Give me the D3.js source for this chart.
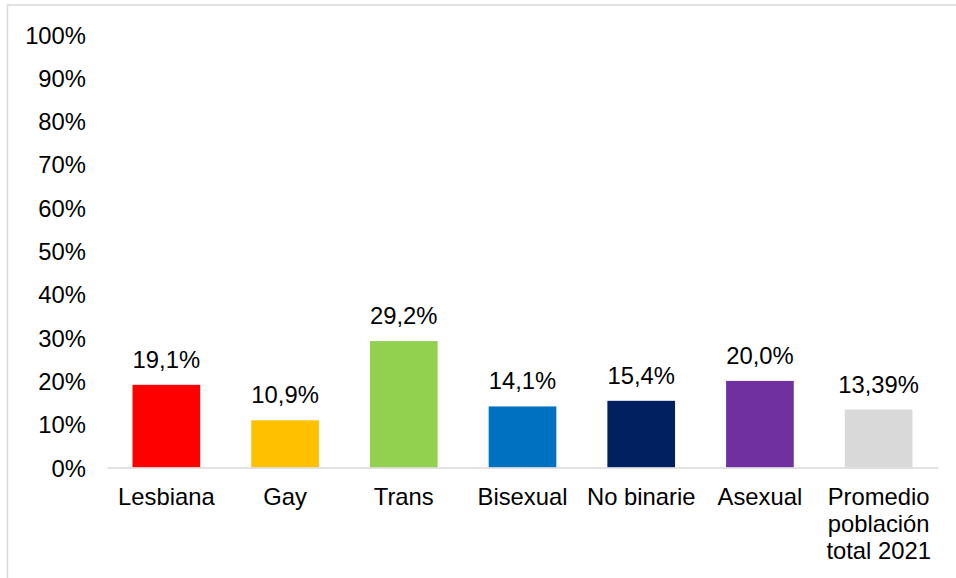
<!DOCTYPE html>
<html>
<head>
<meta charset="utf-8">
<script src="https://cdn.jsdelivr.net/npm/d3@7"></script>
<style>
  body { margin: 0; background: #fff; }
  text { font-family: "Liberation Sans", Arial, sans-serif; fill: #000; }
</style>
</head>
<body>
<div id="chart"></div>
<script>
const width = 956
const height = 578

// Data
const categories = ["Lesbiana", "Gay", "Trans", "Bisexual", "No binarie", "Asexual", "Promedio población total 2021"]
const categoryLines = [["Lesbiana"], ["Gay"], ["Trans"], ["Bisexual"], ["No binarie"], ["Asexual"], ["Promedio", "población", "total 2021"]]
const values = [19.1, 10.9, 29.2, 14.1, 15.4, 20.0, 13.39]
const valueLabels = ["19,1%", "10,9%", "29,2%", "14,1%", "15,4%", "20,0%", "13,39%"]
const barColors = ["#ff0000", "#ffc000", "#92d050", "#0070c0", "#002060", "#7030a0", "#d9d9d9"]
const yTicks = [0, 10, 20, 30, 40, 50, 60, 70, 80, 90, 100]

const fontSize = "23.8px"

const svg = d3.select("#chart")
  .append("svg")
    .attr("width", width)
    .attr("height", height)

// chart frame (cropped at right and bottom)
svg.append("rect")
  .attr("x", 7.5)
  .attr("y", 5)
  .attr("width", width + 20)
  .attr("height", height + 20)
  .attr("fill", "none")
  .attr("stroke", "#d9d9d9")
  .attr("stroke-width", 1.5)

const xScale = d3.scaleBand()
  .domain(categories)
  .range([107, 938])
  .paddingInner(0.43)
  .paddingOuter(0.215)

const yScale = d3.scaleLinear()
  .domain([0, 100])
  .range([467.5, 34.5])

// y-axis labels, no line
const yAxis = svg.append("g")
  .attr("transform", "translate(86, 0)")
  .call(d3.axisLeft(yScale).tickValues(yTicks).tickSize(0).tickPadding(0).tickFormat(d => d + "%"))
yAxis.select(".domain").remove()
yAxis.selectAll("text")
  .attr("font-size", fontSize)
  .attr("font-family", "Liberation Sans, Arial, sans-serif")
  .attr("fill", "#000")
  .attr("dy", "0.36em")

// bars
svg.selectAll(".bar")
  .data(values)
  .join("rect")
    .attr("class", "bar")
    .attr("x", (d, i) => xScale(categories[i]))
    .attr("y", d => yScale(d))
    .attr("width", xScale.bandwidth())
    .attr("height", d => yScale(0) - yScale(d))
    .attr("fill", (d, i) => barColors[i])

// data labels
svg.selectAll(".val")
  .data(values)
  .join("text")
    .attr("class", "val")
    .attr("x", (d, i) => xScale(categories[i]) + xScale.bandwidth() / 2)
    .attr("y", d => yScale(d) - 17)
    .attr("text-anchor", "middle")
    .attr("font-size", fontSize)
    .text((d, i) => valueLabels[i])

// x-axis baseline
const xAxis = svg.append("g")
  .attr("transform", `translate(0, ${yScale(0)})`)
  .call(d3.axisBottom(xScale).tickSize(0).tickFormat(""))
xAxis.select(".domain")
  .attr("stroke", "#d9d9d9")
  .attr("stroke-width", 1.5)

// category labels (multi-line)
svg.selectAll(".cat")
  .data(categories)
  .join("text")
    .attr("class", "cat")
    .attr("text-anchor", "middle")
    .attr("font-size", fontSize)
    .attr("y", yScale(0) + 37.5)
    .each(function(d, i) {
      const cx = xScale(d) + xScale.bandwidth() / 2
      d3.select(this).selectAll("tspan")
        .data(categoryLines[i])
        .join("tspan")
          .attr("x", cx)
          .attr("dy", (t, j) => j === 0 ? 0 : 27)
          .text(t => t)
    })
</script>
</body>
</html>
